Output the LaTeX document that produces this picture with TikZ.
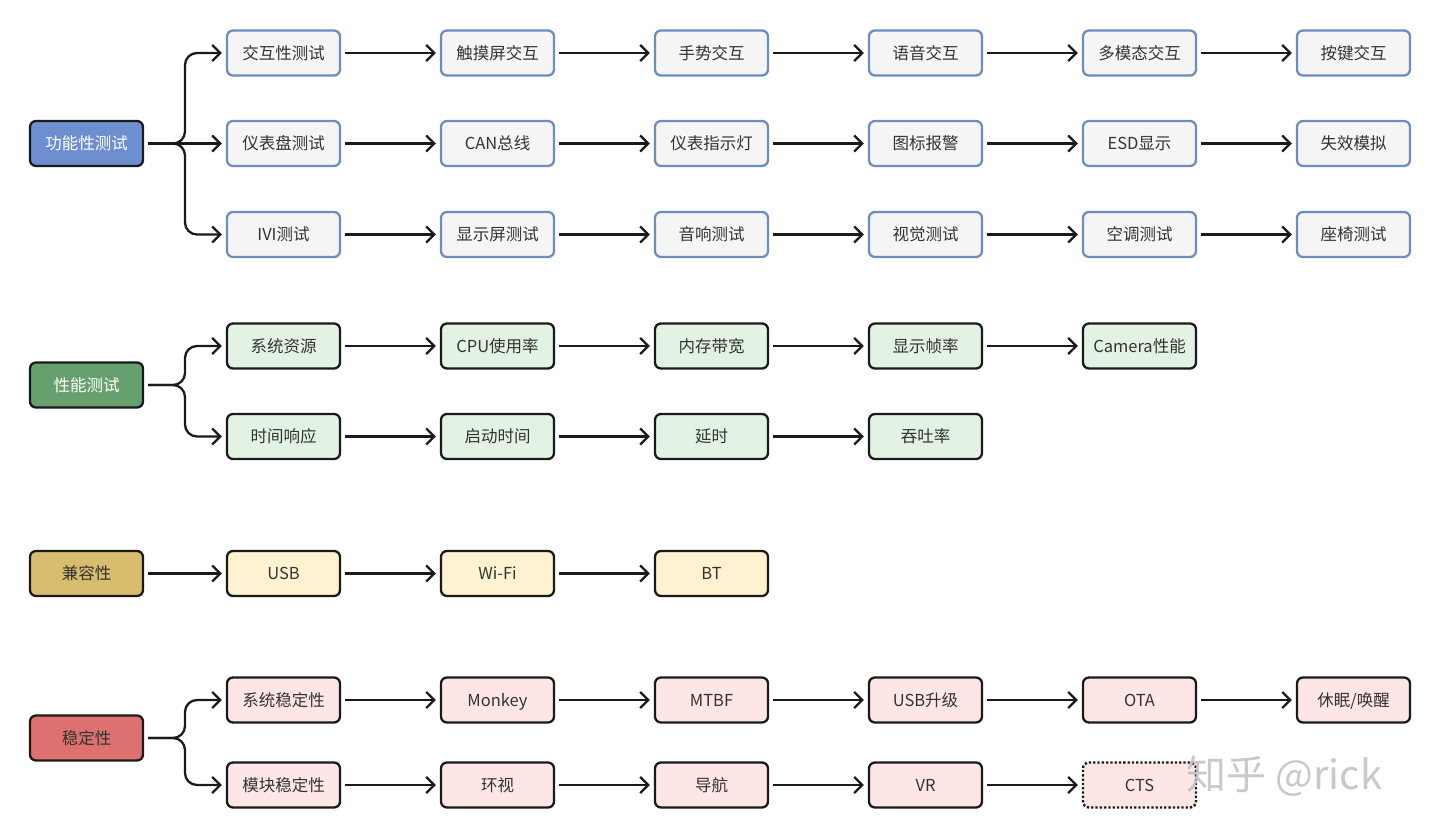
\documentclass[tikz,border=0pt]{standalone}
\usepackage{fontspec}
\setmainfont{Noto Sans CJK SC}
\usetikzlibrary{arrows.meta}
\definecolor{rootA}{HTML}{6D8FCF}
\definecolor{rootB}{HTML}{67A06F}
\definecolor{rootC}{HTML}{D8BD6E}
\definecolor{rootD}{HTML}{DC716F}
\definecolor{fillA}{HTML}{F5F5F5}
\definecolor{lineA}{HTML}{6C8EBF}
\definecolor{fillB}{HTML}{E2F3E3}
\definecolor{fillC}{HTML}{FFF2D0}
\definecolor{fillD}{HTML}{FFE6E6}
\definecolor{txt}{HTML}{333333}
\definecolor{edge}{HTML}{1A1A1A}
\tikzset{
  box/.style={rounded corners=6pt, line width=2.3pt, minimum width=113pt, minimum height=45pt, inner sep=0pt, font=\fontsize{16.5}{16.5}\selectfont, text=txt, text height=14.5pt, text depth=2pt},
  rootbox/.style={box, draw=edge},
  boxA/.style={box, draw=lineA, fill=fillA},
  boxB/.style={box, draw=edge, fill=fillB},
  boxC/.style={box, draw=edge, fill=fillC},
  boxD/.style={box, draw=edge, fill=fillD},
  link/.style={draw=edge, line width=2.3pt, -{Straight Barb[length=8pt,width=16pt]}, shorten <=4pt, shorten >=4pt},
  brace/.style={link, rounded corners=12pt},
}
\begin{document}
\begin{tikzpicture}[x=1pt,y=-1pt]
\useasboundingbox (0,0) rectangle (1440,836);
% roots
\node[rootbox, fill=rootA, text=white] (r1) at (86.5,143.5) {功能性测试};
\node[rootbox, fill=rootB, text=white] (r2) at (86.5,385) {性能测试};
\node[rootbox, fill=rootC] (r3) at (86.5,573.5) {兼容性};
\node[rootbox, fill=rootD] (r4) at (86.5,738) {稳定性};
% group A
\node[boxA] (a1) at (283.5,53) {交互性测试};
\node[boxA] (a2) at (497.5,53) {触摸屏交互};
\node[boxA] (a3) at (711.5,53) {手势交互};
\node[boxA] (a4) at (925.5,53) {语音交互};
\node[boxA] (a5) at (1139.5,53) {多模态交互};
\node[boxA] (a6) at (1353.5,53) {按键交互};
\node[boxA] (b1) at (283.5,143.5) {仪表盘测试};
\node[boxA] (b2) at (497.5,143.5) {CAN总线};
\node[boxA] (b3) at (711.5,143.5) {仪表指示灯};
\node[boxA] (b4) at (925.5,143.5) {图标报警};
\node[boxA] (b5) at (1139.5,143.5) {ESD显示};
\node[boxA] (b6) at (1353.5,143.5) {失效模拟};
\node[boxA] (c1) at (283.5,234.5) {IVI测试};
\node[boxA] (c2) at (497.5,234.5) {显示屏测试};
\node[boxA] (c3) at (711.5,234.5) {音响测试};
\node[boxA] (c4) at (925.5,234.5) {视觉测试};
\node[boxA] (c5) at (1139.5,234.5) {空调测试};
\node[boxA] (c6) at (1353.5,234.5) {座椅测试};
% group B
\node[boxB] (d1) at (283.5,346) {系统资源};
\node[boxB] (d2) at (497.5,346) {CPU使用率};
\node[boxB] (d3) at (711.5,346) {内存带宽};
\node[boxB] (d4) at (925.5,346) {显示帧率};
\node[boxB] (d5) at (1139.5,346) {Camera性能};
\node[boxB] (e1) at (283.5,436.5) {时间响应};
\node[boxB] (e2) at (497.5,436.5) {启动时间};
\node[boxB] (e3) at (711.5,436.5) {延时};
\node[boxB] (e4) at (925.5,436.5) {吞吐率};
% group C
\node[boxC] (f1) at (283.5,573.5) {USB};
\node[boxC] (f2) at (497.5,573.5) {Wi-Fi};
\node[boxC] (f3) at (711.5,573.5) {BT};
% group D
\node[boxD] (g1) at (283.5,700) {系统稳定性};
\node[boxD] (g2) at (497.5,700) {Monkey};
\node[boxD] (g3) at (711.5,700) {MTBF};
\node[boxD] (g4) at (925.5,700) {USB升级};
\node[boxD] (g5) at (1139.5,700) {OTA};
\node[boxD] (g6) at (1353.5,700) {休眠/唤醒};
\node[boxD] (h1) at (283.5,785) {模块稳定性};
\node[boxD] (h2) at (497.5,785) {环视};
\node[boxD] (h3) at (711.5,785) {导航};
\node[boxD] (h4) at (925.5,785) {VR};
\node[box, fill=fillD, draw=edge, dotted, line width=2.4pt] (h5) at (1139.5,785) {CTS};
% chains
\foreach \p in {a,b,c,g}{
  \foreach \i [evaluate=\i as \j using int(\i+1)] in {1,...,5}{
    \draw[link] (\p\i) -- (\p\j);
  }
}
\foreach \i [evaluate=\i as \j using int(\i+1)] in {1,...,4}{ \draw[link] (d\i) -- (d\j); }
\foreach \i [evaluate=\i as \j using int(\i+1)] in {1,...,3}{ \draw[link] (e\i) -- (e\j); }
\foreach \i [evaluate=\i as \j using int(\i+1)] in {1,...,4}{ \draw[link] (h\i) -- (h\j); }
\foreach \i [evaluate=\i as \j using int(\i+1)] in {1,...,2}{ \draw[link] (f\i) -- (f\j); }
% braces
\coordinate (k1) at (185,143.5);
\draw[brace] (r1.east) -- (k1) |- (a1.west);
\draw[brace] (r1.east) -- (k1) |- (c1.west);
\draw[link] (r1) -- (b1);
\coordinate (k2) at (185,385);
\draw[brace] (r2.east) -- (k2) |- (d1.west);
\draw[brace] (r2.east) -- (k2) |- (e1.west);
\draw[link] (r3) -- (f1);
\coordinate (k4) at (185,738);
\draw[brace] (r4.east) -- (k4) |- (g1.west);
\draw[brace] (r4.east) -- (k4) |- (h1.west);
% watermark
\node[text=gray!50, font=\fontsize{40}{40}\selectfont, anchor=west, opacity=0.85] (wm) at (1183,776) {知乎 @rick};
\end{tikzpicture}
\end{document}
